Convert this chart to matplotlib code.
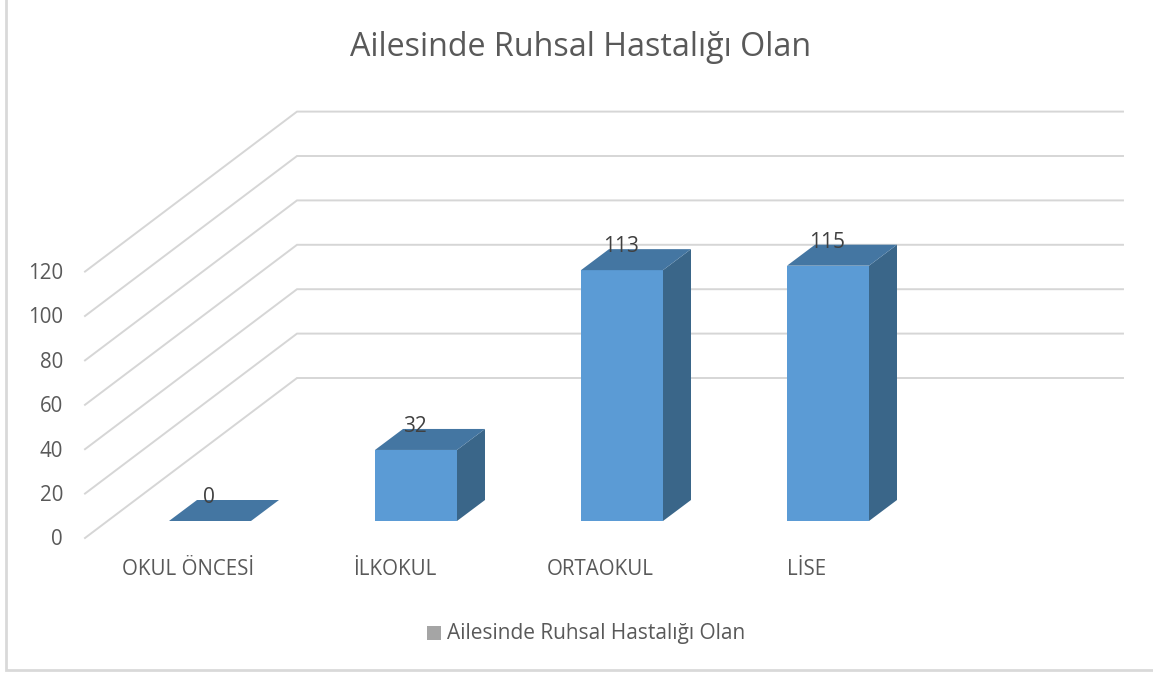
import matplotlib
matplotlib.use('Agg')
import matplotlib.pyplot as plt
from matplotlib.patches import Polygon, Rectangle

plt.rcParams['font.family'] = ['Open Sans', 'DejaVu Sans']

title = 'Ailesinde Ruhsal Hastalığı Olan'
categories = ['OKUL ÖNCESİ', 'İLKOKUL', 'ORTAOKUL', 'LİSE']
values = [0, 32, 113, 115]
ticks = [0, 20, 40, 60, 80, 100, 120]

# one x unit is one category slot, y is in chart values
px_x = 206.0
px_y = 2.22
W, H = 1153, 677

bar_w = 82 / px_x
bar_dx = 28 / px_x
bar_dy = 21 / px_y
wall_left = (85 - 210) / px_x
wall_right = (1123 - 210) / px_x
floor_y = (521 - 538) / px_y
wall_dx = 212 / px_x
wall_dy = 160 / px_y

FRONT = '#5b9bd5'
TOP = '#4476a2'
SIDE = '#3a6689'
GRID = '#d6d6d6'
TEXT = '#595959'

fig = plt.figure(figsize=(W / 100, H / 100), dpi=100)
ax = fig.add_axes([0, 0, 1, 1])
ax.set_xlim(-210 / px_x, (W - 210) / px_x)
ax.set_ylim((521 - H) / px_y, 521 / px_y)
ax.axis('off')

# chart frame, only left and bottom show in the picture
ax.plot([(5.5 - 210) / px_x, (5.5 - 210) / px_x, (W - 210) / px_x],
        [521 / px_y, (521 - 670) / px_y, (521 - 670) / px_y],
        color='#d9d9d9', lw=2, solid_joinstyle='miter')

for t in ticks:
    y0 = floor_y + t
    ax.plot([wall_left, wall_left + wall_dx, wall_right],
            [y0, y0 + wall_dy, y0 + wall_dy],
            color=GRID, lw=1.4, zorder=1, solid_joinstyle='miter')
    ax.text(wall_left - 22 / px_x, y0 - 0.9, str(t), ha='right', va='center',
            fontsize=14.8, color=TEXT)

for i, (name, v) in enumerate(zip(categories, values)):
    x0 = i - bar_w / 2
    x1 = x0 + bar_w
    if v > 0:
        ax.add_patch(Polygon([(x0, 0), (x1, 0), (x1, v), (x0, v)], fc=FRONT, ec='none', zorder=3))
        ax.add_patch(Polygon([(x1, 0), (x1 + bar_dx, bar_dy), (x1 + bar_dx, v + bar_dy), (x1, v)],
                             fc=SIDE, ec='none', zorder=3))
    ax.add_patch(Polygon([(x0, v), (x1, v), (x1 + bar_dx, v + bar_dy), (x0 + bar_dx, v + bar_dy)],
                         fc=TOP, ec='none', zorder=3))
    ax.text(i + bar_dx / 2 - 0.073, v + bar_dy + 1, str(v), ha='center', va='center',
            fontsize=15, color='#404040', zorder=4)
    ax.text(i - 0.105, -21.8, name, ha='center', va='center', fontsize=14.8, color=TEXT)

ax.text((581 - 210) / px_x, (521 - 47.5) / px_y, title, ha='center', va='center',
        fontsize=23.2, color=TEXT)

# legend
ax.add_patch(Rectangle(((427 - 210) / px_x, (521 - 640) / px_y), 14 / px_x, 14 / px_y,
                       fc='#a5a5a5', ec='none'))
ax.text((447 - 210) / px_x, (521 - 633) / px_y, title, ha='left', va='center',
        fontsize=15, color=TEXT)

fig.savefig('out.png', dpi=100)
